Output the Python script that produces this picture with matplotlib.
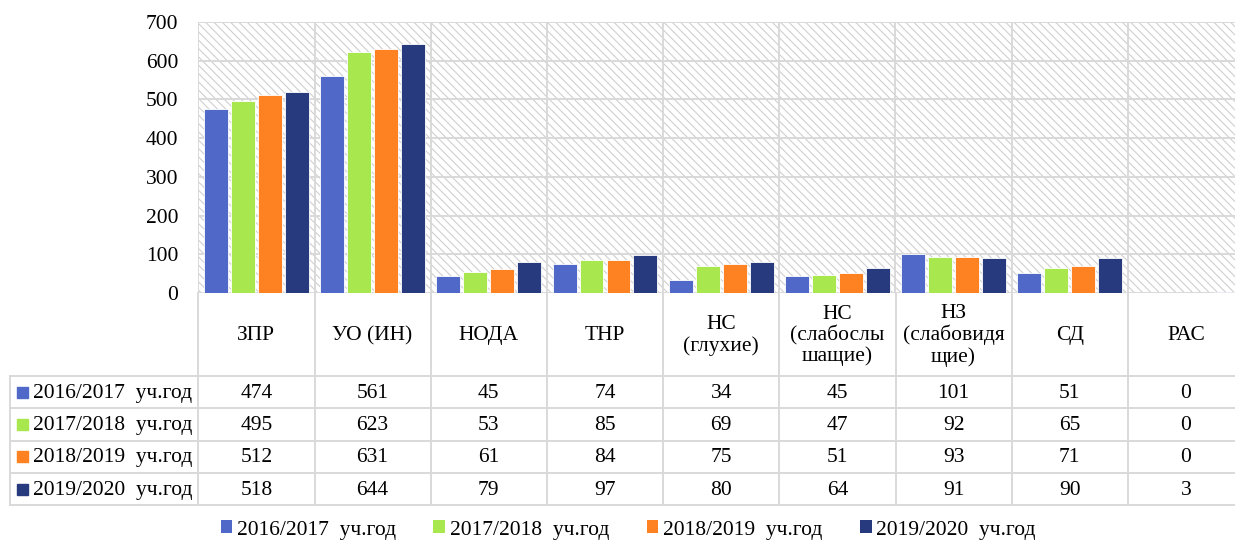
#!/usr/bin/env python3
"""Excel-style clustered bar chart with a data table below."""
import matplotlib
matplotlib.use("Agg")
import matplotlib.pyplot as plt
from matplotlib.patches import Patch, Rectangle

CATEGORIES = ["ЗПР", "УО (ИН)", "НОДА", "ТНР", "НС\n(глухие)",
              "НС\n(слабослы\nшащие)", "НЗ\n(слабовидя\nщие)", "СД", "РАС"]
SERIES = ["2016/2017  уч.год", "2017/2018  уч.год",
          "2018/2019  уч.год", "2019/2020  уч.год"]
V_2016 = [474, 561, 45, 74, 34, 45, 101, 51, 0]
V_2017 = [495, 623, 53, 85, 69, 47, 92, 65, 0]
V_2018 = [512, 631, 61, 84, 75, 51, 93, 71, 0]
V_2019 = [518, 644, 79, 97, 80, 64, 91, 90, 3]
VALUES = [V_2016, V_2017, V_2018, V_2019]
COLORS = ["#5068C8", "#A8E84E", "#FF8222", "#283A7E"]
Y_TICKS = [0, 100, 200, 300, 400, 500, 600, 700]

W, H = 1235, 542
GRID = "#d9d9d9"
FONT = "Liberation Serif"
FS = 15.5

plt.rcParams["font.family"] = [FONT, "DejaVu Serif"]
plt.rcParams["hatch.linewidth"] = 0.8

fig = plt.figure(figsize=(W / 100, H / 100), dpi=100)

# main plot area, in pixels
AX_L, AX_T, AX_B = 198.3, 22, 293
COL_W = 116.2
n = len(CATEGORIES)
AX_W = COL_W * n
ax = fig.add_axes([AX_L / W, (H - AX_B) / H, AX_W / W, (AX_B - AX_T) / H])
ax.set_xlim(-0.5, n - 0.5)
ax.set_ylim(0, 700)
ax.add_patch(Rectangle((0, 0), 1, 1, transform=ax.transAxes, facecolor="white",
                       edgecolor="#cfcfcf", hatch="\\\\\\\\", lw=0, zorder=0))
for s in ax.spines.values():
    s.set_visible(False)

ax.set_yticks(Y_TICKS)
ax.set_yticklabels([str(t) for t in Y_TICKS], fontsize=FS)
ax.tick_params(axis="y", length=0, pad=14.5)
ax.set_xticks([])
for t in Y_TICKS:
    ax.axhline(t, color=GRID, lw=1.4, zorder=1)
for i in range(n + 1):
    ax.axvline(i - 0.5, color=GRID, lw=1.4, zorder=1)

step, width = 0.232, 0.206
for k, (vals, col) in enumerate(zip(VALUES, COLORS)):
    xs = [i + (k - 1.5) * step for i in range(n)]
    ax.bar(xs, vals, width=width, color=col, edgecolor="white", lw=0.6, zorder=3)

# data table, drawn in pixel coordinates
tab = fig.add_axes([0, 0, 1, 1])
tab.set_xlim(0, W)
tab.set_ylim(H, 0)
tab.axis("off")

TAB_L = 10
HDR_B = 376
ROW_H = 32.3
rows_y = [HDR_B + r * ROW_H for r in range(len(SERIES) + 1)]
col_x = [AX_L + i * COL_W for i in range(n + 1)]

for i in range(n + 1):
    tab.plot([col_x[i], col_x[i]], [AX_B, rows_y[-1]], color=GRID, lw=1.4)
tab.plot([TAB_L, TAB_L], [HDR_B, rows_y[-1]], color=GRID, lw=1.4)
for y in rows_y:
    tab.plot([TAB_L, col_x[-1]], [y, y], color=GRID, lw=1.4)

for i, cat in enumerate(CATEGORIES):
    cx = (col_x[i] + col_x[i + 1]) / 2
    tab.text(cx, (AX_B + HDR_B) / 2 + 1, cat, ha="center", va="center",
             fontsize=FS, linespacing=1.1, color="black")

for r, (name, vals, col) in enumerate(zip(SERIES, VALUES, COLORS)):
    cy = (rows_y[r] + rows_y[r + 1]) / 2
    tab.add_patch(Rectangle((17, cy - 5.5), 11, 11, color=col))
    tab.text(33, cy + 1, name, ha="left", va="center", fontsize=FS, color="black")
    for i, v in enumerate(vals):
        cx = (col_x[i] + col_x[i + 1]) / 2
        tab.text(cx, cy + 1, str(v), ha="center", va="center", fontsize=FS,
                 color="black")

handles = [Patch(facecolor=c, edgecolor="none") for c in COLORS]
fig.legend(handles, SERIES, loc="center", bbox_to_anchor=(628 / W, (H - 530) / H),
           ncol=4, frameon=False, fontsize=FS, handlelength=0.55, handleheight=0.55,
           handletextpad=0.2, columnspacing=1.75, borderpad=0)

fig.savefig("out.png", dpi=100)
